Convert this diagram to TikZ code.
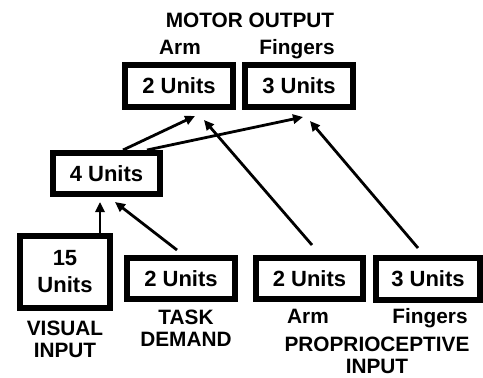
\documentclass[tikz,border=0pt]{standalone}
\usepackage{fontspec}
\setmainfont{Liberation Sans}
\usetikzlibrary{arrows.meta}

\begin{document}
\begin{tikzpicture}[x=0.5pt,y=-0.5pt,
  font=\fontsize{10.4}{11}\selectfont\bfseries,
  unitbox/.style={draw,line width=2.9pt,inner sep=0pt,minimum width=54.1pt,minimum height=21.1pt,
    font=\fontsize{11}{13.5}\selectfont\bfseries},
  link/.style={line width=1.4pt,-{Triangle[length=5pt,width=4.6pt]}},
  tag/.style={align=center,inner sep=0pt}]
\useasboundingbox (0,0) rectangle (483,377);
% motor output
\node[tag,anchor=base] (mlab) at (250,27) {MOTOR OUTPUT};
\node[tag,anchor=base] (marmlab) at (180,54) {Arm};
\node[tag,anchor=base] (mfinglab) at (297,54) {Fingers};
\node[unitbox] (marm) at (179,86) {2 Units};
\node[unitbox] (mfing) at (299,86) {3 Units};
% hidden layer
\node[unitbox,minimum width=53.6pt,minimum height=20.6pt] (hid) at (106.5,173.5) {4 Units};
% inputs
\node[unitbox,minimum width=45.1pt,minimum height=36.1pt,align=center] (vis) at (65,272) {15\\Units};
\node[unitbox,minimum height=20.6pt] (task) at (181,278.5) {2 Units};
\node[unitbox,minimum width=53.6pt,minimum height=20.6pt] (parm) at (309.5,278.5) {2 Units};
\node[unitbox,minimum width=52.1pt] (pfing) at (428,279) {3 Units};
\node[tag] (vislab) at (65,339.5) {VISUAL\\INPUT};
\node[tag] (tasklab) at (186,328) {TASK\\DEMAND};
\node[tag,anchor=base] (parmlab) at (308,323) {Arm};
\node[tag,anchor=base] (pfinglab) at (430,323) {Fingers};
\node[tag] (plab) at (377,355.5) {PROPRIOCEPTIVE\\INPUT};
% connections
\draw[link] ([xshift=8.25pt]hid.north) -- ([xshift=8pt,yshift=-3pt]marm.south);
\draw[link] ([xshift=20.25pt]hid.north) -- ([xshift=2pt,yshift=-3.5pt]mfing.south);
\draw[link] ([xshift=17.5pt]vis.north) -- ([xshift=-3.25pt,yshift=-2.5pt]hid.south);
\draw[link] ([xshift=-2pt,yshift=2.5pt]task.north) -- ([xshift=4.25pt,yshift=-2.5pt]hid.south);
\draw[link] ([xshift=1.25pt,yshift=5pt]parm.north) -- ([xshift=12.5pt,yshift=-5pt]marm.south);
\draw[link] ([xshift=-5pt,yshift=3.5pt]pfing.north) -- ([xshift=5.5pt,yshift=-5.5pt]mfing.south);
\end{tikzpicture}
\end{document}
